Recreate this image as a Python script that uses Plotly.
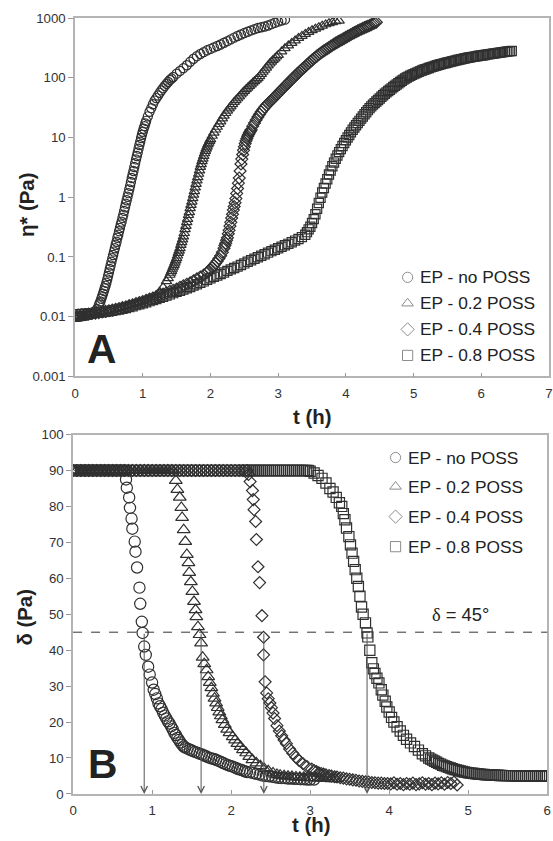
import plotly.graph_objects as go

# ---------------- Panel A : complex viscosity eta* (Pa) vs t (h) ----------------
tA_no = [0.000,0.025,0.050,0.075,0.100,0.125,0.150,0.175,0.200,0.225,0.250,0.275,0.300,0.325,0.350,
         0.3625,0.375,0.3875,0.400,0.4125,0.425,0.4375,0.450,0.4625,0.475,0.4875,0.500,0.5125,0.525,0.5375,
         0.550,0.5625,0.575,0.5875,0.600,0.6125,0.625,0.6375,0.650,0.6625,0.675,0.6875,0.700,0.7125,0.725,
         0.7375,0.750,0.7625,0.775,0.7875,0.800,0.8125,0.825,0.8375,0.850,0.8625,0.875,0.8875,0.900,0.9125,
         0.925,0.9375,0.950,0.9625,0.975,0.9875,1.000,1.0125,1.025,1.0375,1.050,1.075,1.100,1.125,1.150,
         1.175,1.200,1.225,1.250,1.275,1.300,1.325,1.350,1.375,1.400,1.425,1.450,1.500,1.550,1.600,
         1.650,1.700,1.750,1.800,1.850,1.900,1.950,2.000,2.050,2.100,2.150,2.200,2.250,2.300,2.350,
         2.400,2.450,2.500,2.550,2.600,2.650,2.700,2.750,2.800,2.850,2.900,2.950,3.000,3.050,3.100]
etaA_no = [0.0100,0.0100,0.0100,0.0101,0.0102,0.0103,0.0104,0.0105,0.0107,0.0109,0.0111,0.0115,0.0122,0.0135,0.0155,
           0.0168,0.018,0.020,0.022,0.0243,0.027,0.030,0.033,0.037,0.042,0.048,0.055,0.063,0.072,0.083,
           0.095,0.108,0.123,0.14,0.16,0.18,0.21,0.235,0.27,0.305,0.35,0.39,0.45,0.51,0.59,
           0.68,0.78,0.89,1.02,1.17,1.35,1.55,1.8,2.1,2.4,2.75,3.2,3.7,4.3,4.9,
           5.6,6.5,7.5,8.5,9.8,11.1,12.5,14,15.5,17.2,19,22.6,27,31,36,
           41.5,45.7,50.5,56,61.5,67,73,79,85,92,97,103,117,130,145,
           162,185,208,230,250,268,288,305,322,340,360,385,410,440,470,
           500,530,560,590,620,650,680,700,720,750,790,830,870,910,940]

tA_02 = [0.00,0.05,0.10,0.15,0.20,0.25,0.30,0.35,0.40,0.45,0.50,0.55,0.60,0.65,0.70,0.75,0.80,0.85,0.90,0.95,
         1.00,1.05,1.10,1.15,1.20,1.25,1.30,1.35,1.375,1.40,1.4125,1.425,1.4375,1.45,1.4625,1.475,1.4875,1.50,
         1.5125,1.525,1.5375,1.55,1.5625,1.575,1.5875,1.60,1.6125,1.625,1.6375,1.65,1.6625,1.675,1.6875,1.70,
         1.7125,1.725,1.7375,1.75,1.7625,1.775,1.7875,1.80,1.8125,1.825,1.8375,1.85,1.8625,1.875,1.8875,1.90,
         1.9125,1.925,1.9375,1.95,1.9625,1.975,1.9875,2.00,2.025,2.05,2.075,2.10,2.125,2.15,2.175,2.20,
         2.225,2.25,2.275,2.30,2.325,2.35,2.375,2.40,2.425,2.45,2.475,2.50,2.525,2.55,2.575,2.60,2.625,2.65,
         2.675,2.70,2.725,2.75,2.775,2.80,2.825,2.85,2.875,2.90,2.925,2.95,2.975,3.00,3.05,3.10,3.15,3.20,
         3.25,3.30,3.35,3.40,3.45,3.50,3.55,3.60,3.65,3.70,3.75,3.80,3.85,3.90]
etaA_02 = [0.0100,0.0101,0.0103,0.0105,0.0107,0.0109,0.0112,0.0115,0.0118,0.0121,0.0125,0.0129,0.0133,0.0138,0.0143,0.0149,0.0155,0.0161,0.0168,0.0175,
           0.0183,0.0191,0.020,0.0214,0.023,0.026,0.031,0.039,0.044,0.050,0.054,0.058,0.063,0.068,0.073,0.080,0.087,0.095,
           0.105,0.116,0.127,0.14,0.158,0.176,0.195,0.22,0.25,0.29,0.33,0.38,0.43,0.50,0.56,0.65,
           0.74,0.84,0.96,1.1,1.26,1.45,1.66,1.9,2.16,2.45,2.8,3.2,3.55,4.0,4.4,4.9,
           5.4,5.9,6.45,7.0,7.6,8.1,8.7,9.3,10.6,12,13.5,15,16.7,18.5,20.7,23,
           25.5,28,30.5,33,36,39,42,45,48.5,52,56,60,64,68,72.5,77,82,87,
           92.5,98,106,115,125,135,147,160,172,185,197,210,225,240,275,310,345,380,
           420,460,500,540,580,620,660,700,740,780,815,850,880,900]

tA_04 = [0.00,0.05,0.10,0.15,0.20,0.25,0.30,0.35,0.40,0.45,0.50,0.55,0.60,0.65,0.70,0.75,0.80,0.85,0.90,0.95,
         1.00,1.05,1.10,1.15,1.20,1.25,1.30,1.35,1.40,1.45,1.50,1.55,1.60,1.65,1.70,1.75,1.80,1.85,1.90,1.95,
         1.975,2.00,2.025,2.05,2.075,2.10,2.125,2.15,2.175,2.20,2.2125,2.225,2.2375,2.25,2.2625,2.275,2.2875,2.30,
         2.3125,2.325,2.3375,2.35,2.3625,2.375,2.3875,2.40,2.4125,2.425,2.4375,2.45,2.4625,2.475,2.4875,2.50,
         2.5125,2.525,2.5375,2.55,2.5625,2.575,2.5875,2.60,2.625,2.65,2.675,2.70,2.725,2.75,2.775,2.80,
         2.825,2.85,2.875,2.90,2.925,2.95,2.975,3.00,3.025,3.05,3.075,3.10,3.125,3.15,3.175,3.20,3.225,3.25,
         3.275,3.30,3.325,3.35,3.375,3.40,3.425,3.45,3.475,3.50,3.525,3.55,3.575,3.60,3.625,3.65,3.675,3.70,
         3.725,3.75,3.775,3.80,3.825,3.85,3.875,3.90,3.925,3.95,3.975,4.00,4.025,4.05,4.075,4.10,4.125,4.15,
         4.175,4.20,4.225,4.25,4.275,4.30,4.325,4.35,4.375,4.40,4.425,4.45]
etaA_04 = [0.0105,0.0106,0.0108,0.0109,0.0111,0.0113,0.0115,0.0117,0.0120,0.0123,0.0126,0.0129,0.0133,0.0137,0.0142,0.0147,0.0153,0.0159,0.0166,0.0173,
           0.0180,0.0188,0.0197,0.0206,0.0216,0.0228,0.0240,0.0252,0.0265,0.0277,0.029,0.031,0.033,0.035,0.037,0.040,0.043,0.046,0.050,0.055,
           0.058,0.062,0.067,0.072,0.078,0.085,0.094,0.105,0.12,0.14,0.155,0.17,0.19,0.21,0.245,0.28,0.33,0.38,
           0.45,0.52,0.61,0.70,0.81,0.95,1.16,1.4,1.72,2.1,2.75,3.6,4.35,5.2,6.1,7.0,
           7.9,8.8,9.6,10.5,11.2,12,12.7,13.5,15.5,17.5,19.7,22,24.5,27,29.5,32,
           34.5,37,39.5,42,45,48,51.5,55,59,63,67.5,72,77,82,88,94,100,107,
           114,122,130,138,146,155,165,175,186,197,208,220,232,245,257,270,282,295,
           307,320,335,350,365,380,395,410,425,440,457,475,492,510,530,550,570,590,
           610,630,650,670,690,710,730,750,775,800,825,850]

tA_08 = [0.00,0.05,0.10,0.15,0.20,0.25,0.30,0.35,0.40,0.45,0.50,0.55,0.60,0.65,0.70,0.75,0.80,0.85,0.90,0.95,
         1.00,1.05,1.10,1.15,1.20,1.25,1.30,1.35,1.40,1.45,1.50,1.55,1.60,1.65,1.70,1.75,1.80,1.85,1.90,1.95,
         2.00,2.05,2.10,2.15,2.20,2.25,2.30,2.35,2.40,2.45,2.50,2.55,2.60,2.65,2.70,2.75,2.80,2.85,2.90,2.95,
         3.00,3.05,3.10,3.15,3.20,3.25,3.30,3.35,3.40,3.425,3.45,3.475,3.50,3.525,3.55,3.575,3.60,3.625,3.65,3.675,
         3.70,3.725,3.75,3.775,3.80,3.825,3.85,3.875,3.90,3.925,3.95,3.975,4.00,4.025,4.05,4.075,4.10,4.125,4.15,4.175,
         4.20,4.225,4.25,4.275,4.30,4.325,4.35,4.375,4.40,4.425,4.45,4.475,4.50,4.525,4.55,4.575,4.60,4.625,4.65,4.675,
         4.70,4.725,4.75,4.775,4.80,4.825,4.85,4.875,4.90,4.925,4.95,4.975,5.00,5.025,5.05,5.075,5.10,5.125,5.15,5.175,
         5.20,5.225,5.25,5.275,5.30,5.325,5.35,5.375,5.40,5.425,5.45,5.475,5.50,5.525,5.55,5.575,5.60,5.625,5.65,5.675,
         5.70,5.725,5.75,5.775,5.80,5.825,5.85,5.875,5.90,5.925,5.95,5.975,6.00,6.025,6.05,6.075,6.10,6.125,6.15,6.175,
         6.20,6.225,6.25,6.275,6.30,6.325,6.35,6.375,6.40,6.425,6.45]
etaA_08 = [0.0110,0.0110,0.0111,0.0112,0.0113,0.0114,0.0116,0.0117,0.0119,0.0121,0.0123,0.0126,0.0129,0.0132,0.0136,0.0140,0.0145,0.0150,0.0156,0.0162,
           0.0168,0.0175,0.0182,0.0190,0.0198,0.0207,0.0216,0.0226,0.0236,0.0248,0.026,0.0272,0.0285,0.030,0.0315,0.0332,0.035,0.037,0.039,0.0415,
           0.044,0.0465,0.049,0.052,0.055,0.0585,0.062,0.0655,0.069,0.0735,0.078,0.083,0.088,0.0935,0.099,0.105,0.111,0.118,0.125,0.132,
           0.14,0.148,0.157,0.166,0.176,0.188,0.20,0.215,0.235,0.26,0.29,0.32,0.37,0.43,0.52,0.64,0.8,0.98,1.2,1.43,
           1.7,2.0,2.4,2.8,3.3,3.8,4.4,5.0,5.7,6.4,7.2,8.1,9,10,11,12.2,13.5,14.7,16,17.5,
           19,20.7,22.5,24.5,26.5,28.7,31,33.2,35.5,37.7,40,42.5,45,48,51,54,57,60,63,66.5,
           70,73.5,77,81,85,89,93,97,101,104.5,108,111.5,115,118.5,122,125.5,129,132.5,136,139,
           142,145.5,149,152,155,158.5,162,165,168,171,174,177,180,183,186,189,192,195,198,201,
           204,207,210,213,216,218.5,221,223.5,226,228.5,231,233.5,236,238.5,241,243.5,246,248.5,251,253.5,
           256,258.5,261,263.5,266,268.5,271,273.5,276,278.5,281]

# ---------------- Panel B : phase angle delta vs t (h) ----------------
tB_no = [0.00,0.05,0.10,0.15,0.20,0.25,0.30,0.35,0.40,0.45,0.50,0.55,0.60,0.65,
         0.67,0.68,0.71,0.72,0.74,0.75,0.78,0.79,0.81,0.84,0.85,0.87,0.88,0.90,0.92,0.95,0.97,
         1.00,1.02,1.04,1.06,1.08,1.10,1.12,1.14,1.16,1.18,1.20,1.22,1.24,1.26,1.28,1.30,1.32,1.34,1.36,1.38,
         1.40,1.42,1.45,1.48,1.51,1.54,1.57,1.60,1.63,1.66,1.69,1.72,1.75,1.78,1.81,1.84,1.87,1.90,1.93,1.96,
         1.99,2.02,2.05,2.08,2.11,2.14,2.17,2.20,2.24,2.28,2.32,2.36,2.40,2.44,2.48,2.52,2.56,2.60,2.64,2.68,
         2.72,2.76,2.80,2.84,2.88,2.92,2.96,3.00,3.05]
dB_no = [90,90,90,90,90,90,90,90,90,90,90,90,90,90,
         87.5,85.2,82.5,79.6,76.6,73.8,70.2,67.4,63.0,57.4,52.9,47.9,44.8,41.0,38.7,35.4,33.2,
         31.0,29.0,27.8,26.6,25.2,24.4,23.6,22.6,21.8,21.0,20.2,19.6,18.8,18.0,17.0,16.4,15.6,15.0,14.3,13.7,
         13.2,12.9,12.6,12.3,12.0,11.7,11.5,11.2,11.0,10.7,10.4,10.1,9.9,9.7,9.5,9.2,8.9,8.6,8.3,8.0,
         7.8,7.6,7.3,7.0,6.8,6.6,6.3,6.1,6.0,5.8,5.6,5.4,5.1,5.0,4.9,4.8,4.6,4.5,4.4,4.4,
         4.3,4.3,4.2,4.2,4.1,4.1,4.0,4.0,4.0]

tB_02 = [0.00,0.05,0.10,0.15,0.20,0.25,0.30,0.35,0.40,0.45,0.50,0.55,0.60,0.65,0.70,0.75,0.80,0.85,0.90,0.95,
         1.00,1.05,1.10,1.15,1.20,1.25,
         1.30,1.32,1.35,1.37,1.38,1.40,1.42,1.44,1.46,1.47,1.49,1.51,1.53,1.55,1.56,1.58,1.60,1.62,1.64,1.66,
         1.69,1.71,1.73,1.75,1.77,1.79,1.81,1.83,1.85,1.87,1.89,1.92,1.95,1.98,2.02,2.05,2.08,2.12,2.15,2.19,
         2.23,2.27,2.32,2.37,2.42,2.47,2.53,2.58,2.62,2.67,2.72,2.77,2.82,2.87,2.92,2.97,3.02,3.07,3.12,3.17,
         3.22,3.27,3.32]
dB_02 = [90,90,90,90,90,90,90,90,90,90,90,90,90,90,90,90,90,90,90,90,
         90,90,90,90,90,90,
         87.2,84.7,82.5,79.7,76.9,73.5,70.2,66.6,64.3,61.6,59.0,56.3,53.5,51.2,49.3,46.5,44.3,42.0,38.0,36.2,
         34.5,32.6,31.0,29.5,28.0,26.6,25.3,24.0,22.8,21.7,20.6,19.3,18.0,17.0,15.9,15.0,14.0,13.2,12.3,11.4,
         10.4,9.5,8.6,7.8,7.0,6.4,5.8,5.4,5.2,5.0,4.9,4.8,4.7,4.6,4.6,4.5,4.5,4.4,4.4,4.3,
         4.3,4.2,4.2]

tB_04 = [0.00,0.05,0.10,0.15,0.20,0.25,0.30,0.35,0.40,0.45,0.50,0.55,0.60,0.65,0.70,0.75,0.80,0.85,0.90,0.95,
         1.00,1.05,1.10,1.15,1.20,1.25,1.30,1.35,1.40,1.45,1.50,1.55,1.60,1.65,1.70,1.75,1.80,1.85,1.90,1.95,
         2.00,2.05,2.10,2.15,2.20,
         2.22,2.24,2.27,2.28,2.29,2.31,2.32,2.34,2.36,2.39,2.41,2.41,2.43,2.45,2.47,2.49,2.51,2.53,2.55,2.58,
         2.61,2.64,2.67,2.70,2.74,2.78,2.82,2.86,2.91,2.96,3.02,3.05,3.08,3.11,3.14,3.17,3.20,3.24,3.27,3.31,
         3.34,3.38,3.42,3.46,3.50,3.54,3.58,3.62,3.66,3.70,3.74,3.78,3.82,3.86,3.90,3.94,3.98,4.02,4.06,4.10,
         4.14,4.18,4.22,4.26,4.30,4.34,4.38,4.42,4.46,4.50,4.54,4.58,4.62,4.66,4.70,4.74,4.78,4.82,4.86]
dB_04 = [90,90,90,90,90,90,90,90,90,90,90,90,90,90,90,90,90,90,90,90,
         90,90,90,90,90,90,90,90,90,90,90,90,90,90,90,90,90,90,90,90,
         90,90,90,90,90,
         88.9,86.9,84.4,81.9,79.1,75.8,70.8,63.2,58.8,49.6,43.6,38.7,31.2,28.1,26.5,25.3,24.0,22.5,21.0,19.0,
         17.5,16.2,15.0,14.0,12.5,11.3,10.2,9.3,8.4,7.6,6.9,6.5,6.2,5.9,5.7,5.5,5.3,5.1,5.0,4.8,
         4.7,4.5,4.4,4.2,4.1,3.9,3.8,3.6,3.5,3.4,3.3,3.2,3.1,3.0,3.0,2.9,2.9,2.8,3.1,2.7,
         2.9,2.6,2.9,2.7,3.0,2.6,2.8,3.1,2.7,2.9,2.6,3.0,2.8,3.1,2.7,3.2,2.9,3.3,2.5]

tB_08 = [0.00,0.05,0.10,0.15,0.20,0.25,0.30,0.35,0.40,0.45,0.50,0.55,0.60,0.65,0.70,0.75,0.80,0.85,0.90,0.95,
         1.00,1.05,1.10,1.15,1.20,1.25,1.30,1.35,1.40,1.45,1.50,1.55,1.60,1.65,1.70,1.75,1.80,1.85,1.90,1.95,
         2.00,2.05,2.10,2.15,2.175,2.20,2.225,2.25,2.275,2.30,2.325,2.35,2.375,2.40,2.425,2.45,2.475,2.50,2.525,2.55,
         2.575,2.60,2.625,2.65,2.675,2.70,2.725,2.75,2.775,2.80,2.825,2.85,2.875,2.90,2.925,2.95,2.975,
         3.00,3.05,3.10,3.15,3.20,3.25,3.29,3.33,3.37,3.40,3.42,3.44,3.46,3.49,3.51,3.53,3.55,3.57,3.59,3.61,
         3.63,3.65,3.67,3.70,3.72,3.73,3.755,3.78,3.80,3.82,3.845,3.87,3.90,3.92,3.95,3.97,4.00,4.03,4.06,4.10,
         4.14,4.18,4.22,4.27,4.32,4.37,4.42,4.46,4.50,4.525,4.55,4.575,4.60,4.625,4.65,4.675,4.70,4.725,4.75,4.775,
         4.80,4.825,4.85,4.875,4.90,4.925,4.95,4.975,5.00,5.025,5.05,5.075,5.10,5.125,5.15,5.175,5.20,5.225,5.25,5.275,
         5.30,5.325,5.35,5.375,5.40,5.425,5.45,5.475,5.50,5.525,5.55,5.575,5.60,5.625,5.65,5.675,5.70,5.725,5.75,5.775,
         5.80,5.825,5.85,5.875,5.90,5.925,5.95,5.975,6.00]
dB_08 = [90,90,90,90,90,90,90,90,90,90,90,90,90,90,90,90,90,90,90,90,
         90,90,90,90,90,90,90,90,90,90,90,90,90,90,90,90,90,90,90,90,
         90,90,90,90,90,90,90,90,90,90,90,90,90,90,90,90,90,90,90,90,
         90,90,90,90,90,90,90,90,90,90,90,90,90,90,90,90,90,
         89.8,89.3,88.6,87.8,86.5,85.0,84.0,82.5,81.0,80.0,78.0,76.3,74.0,71.6,69.3,67.0,64.7,62.4,60.0,57.7,
         55.0,52.0,50.0,47.6,44.8,43.7,40.0,36.5,34.8,33.5,32.2,30.9,29.0,27.5,25.8,24.2,22.8,21.3,20.0,18.7,
         17.5,16.3,15.2,14.2,13.2,12.2,11.2,10.6,10.0,9.7,9.4,9.1,8.8,8.5,8.3,8.0,7.8,7.6,7.4,7.2,
         7.0,6.8,6.7,6.55,6.4,6.25,6.1,6.0,5.9,5.8,5.75,5.7,5.6,5.55,5.5,5.45,5.4,5.35,5.3,5.3,
         5.25,5.2,5.2,5.2,5.15,5.15,5.1,5.1,5.1,5.1,5.05,5.05,5.05,5.0,5.0,5.0,5.0,5.0,5.0,5.0,
         5.0,5.0,5.0,5.0,5.0,5.0,5.0,5.0,5.0]

# gel points (delta = 45 deg crossing times)
gel_times = [0.90, 1.62, 2.414, 3.72]
gel_level = 45

series_names = ["EP - no POSS", "EP - 0.2 POSS", "EP - 0.4 POSS", "EP - 0.8 POSS"]
symbols = ["circle-open", "triangle-up-open", "diamond-open", "square-open"]
yA_ticks = [0.001, 0.01, 0.1, 1, 10, 100, 1000]
yA_text = ["0.001", "0.01", "0.1", "1", "10", "100", "1000"]

W, H = 553, 841
# the photographed page comes out slightly shrunk about its centre; design in "target" pixels
S = 0.981
CX, CY = W / 2, H / 2


def px(x):
    return min(max(CX + (x - CX) / S, 0), W)


def py(y):
    return min(max(CY + (y - CY) / S, 0), H)


def fs(v):
    return v / S


MC = "#303030"
FONT = "Arial, Liberation Sans, sans-serif"

fig = go.Figure()

A_data = [(tA_no, etaA_no, 9), (tA_02, etaA_02, 9), (tA_04, etaA_04, 9), (tA_08, etaA_08, 9)]
B_data = [(tB_no, dB_no, 11), (tB_02, dB_02, 11), (tB_04, dB_04, 9), (tB_08, dB_08, 10)]

for (t, v, s), sym in zip(A_data, symbols):
    fig.add_trace(go.Scatter(x=t, y=v, mode="markers", xaxis="x", yaxis="y", showlegend=False,
                             marker=dict(symbol=sym, size=fs(s), color=MC, line=dict(width=1.2, color=MC)),
                             hoverinfo="skip"))
for (t, v, s), sym in zip(B_data, symbols):
    fig.add_trace(go.Scatter(x=t, y=v, mode="markers", xaxis="x2", yaxis="y2", showlegend=False,
                             marker=dict(symbol=sym, size=fs(s), color=MC, line=dict(width=1.2, color=MC)),
                             hoverinfo="skip"))

# hand-placed legends (pixel overlay axis)
legA_x, legA_y = 407, [278, 304, 330, 356]
legB_x, legB_y = 395, [458, 487, 517, 547]
fig.add_trace(go.Scatter(x=[px(legA_x)] * 4 + [px(legB_x)] * 4, y=[py(v) for v in legA_y + legB_y],
                         mode="markers", xaxis="x3", yaxis="y3", showlegend=False, hoverinfo="skip",
                         marker=dict(symbol=symbols + symbols, size=fs(10), color="#8c8c8c",
                                     line=dict(width=1, color="#8c8c8c"))))

axis_common = dict(showline=True, mirror=True, linecolor="#b4b4b4", linewidth=1.5, showgrid=False,
                   zeroline=False, tickfont=dict(family=FONT, size=fs(13), color="#333"), tickcolor="#999")

xA_dom = [px(76) / W, px(548) / W]
xB_dom = [px(74) / W, px(546) / W]
yA_dom = [(H - py(377)) / H, (H - py(19)) / H]
yB_dom = [(H - py(794)) / H, (H - py(435)) / H]

fig.update_layout(
    width=W, height=H, margin=dict(l=0, r=0, t=0, b=0),
    paper_bgcolor="white", plot_bgcolor="rgba(0,0,0,0)", showlegend=False,
    xaxis=dict(domain=xA_dom, range=[0, 7], dtick=1, anchor="y", ticks="inside", ticklen=4,
               ticklabelstandoff=4, **axis_common),
    yaxis=dict(domain=yA_dom, type="log", range=[-3, 3], tickvals=yA_ticks, ticktext=yA_text, anchor="x",
               ticks="outside", ticklen=5, **axis_common),
    xaxis2=dict(domain=xB_dom, range=[0, 6], dtick=1, anchor="y2", ticks="inside", ticklen=4,
                ticklabelstandoff=3, **axis_common),
    yaxis2=dict(domain=yB_dom, range=[0, 100], dtick=10, anchor="x2", ticks="outside", ticklen=5,
                **axis_common),
    xaxis3=dict(domain=[0, 1], range=[0, W], visible=False, anchor="y3", fixedrange=True),
    yaxis3=dict(domain=[0, 1], range=[H, 0], visible=False, anchor="x3", fixedrange=True),
)

ann = []
# axis titles
ann.append(dict(text="<b>t (h)</b>", x=px(312) / W, y=(H - py(418)) / H))
ann.append(dict(text="<b>t (h)</b>", x=px(311) / W, y=(H - 833) / H))
ann.append(dict(text="<b>η* (Pa)</b>", x=px(28) / W, y=(H - py(205)) / H, textangle=-90))
ann.append(dict(text="<b>δ (Pa)</b>", x=px(26) / W, y=(H - py(617)) / H, textangle=-90))
for a in ann:
    a.update(xref="paper", yref="paper", xanchor="center", yanchor="middle", showarrow=False,
             font=dict(family=FONT, size=fs(20), color="#222"))
# legend texts
for name, yy in zip(series_names, legA_y):
    ann.append(dict(text=name, x=px(417) / W, y=(H - py(yy)) / H, xref="paper", yref="paper",
                    xanchor="left", yanchor="middle", showarrow=False,
                    font=dict(family=FONT, size=fs(17), color="#222")))
for name, yy in zip(series_names, legB_y):
    ann.append(dict(text=name, x=px(405) / W, y=(H - py(yy)) / H, xref="paper", yref="paper",
                    xanchor="left", yanchor="middle", showarrow=False,
                    font=dict(family=FONT, size=fs(17), color="#222")))
# panel letters
ann.append(dict(text="<b>A</b>", x=0.02, y=0.008, xref="x domain", yref="y domain", xanchor="left",
                yanchor="bottom", showarrow=False, font=dict(family=FONT, size=fs(40), color="#222")))
ann.append(dict(text="<b>B</b>", x=0.028, y=0.015, xref="x2 domain", yref="y2 domain", xanchor="left",
                yanchor="bottom", showarrow=False, font=dict(family=FONT, size=fs(40), color="#222")))
# delta = 45 label
ann.append(dict(text="<span style='font-family:Liberation Serif, serif'>δ</span> = 45°", x=px(460) / W,
                y=(H - py(615)) / H, xref="paper", yref="paper", xanchor="center", yanchor="middle",
                showarrow=False, font=dict(family=FONT, size=fs(18), color="#222")))
# arrows at gel points
for tg in gel_times:
    ann.append(dict(text="", x=tg, y=0, ax=tg, ay=gel_level, xref="x2", yref="y2", axref="x2", ayref="y2",
                    showarrow=True, arrowhead=5, arrowsize=1.3, arrowwidth=1, arrowcolor="#555",
                    standoff=0, startstandoff=0))
fig.update_layout(annotations=ann)

fig.add_shape(type="line", xref="x2 domain", yref="y2", x0=0, x1=1, y0=gel_level, y1=gel_level,
              line=dict(color="#333", width=1, dash="dash"))

fig.write_html("out.html", config={"displayModeBar": False},
               post_script="document.body.style.margin='0';document.body.style.overflow='hidden';")
